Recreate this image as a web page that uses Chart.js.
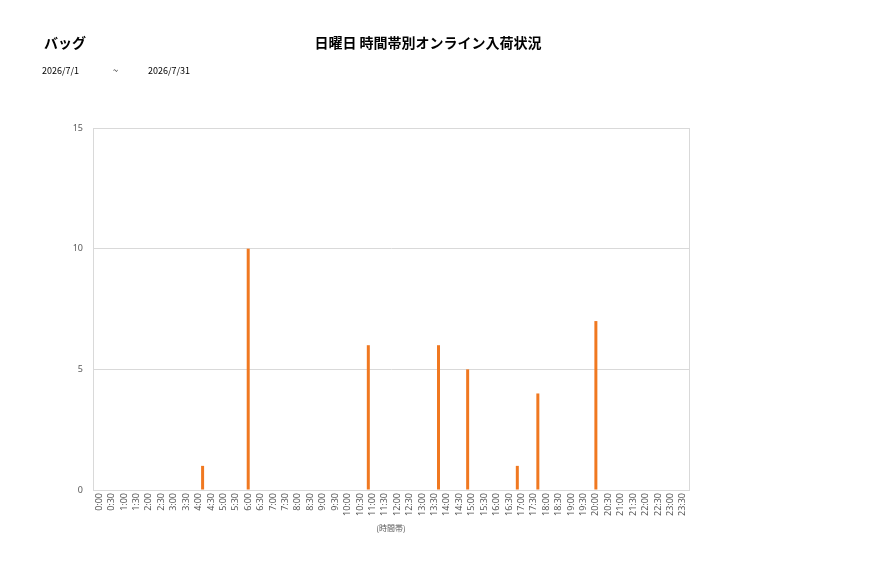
<!DOCTYPE html>
<html>
<head>
<meta charset="utf-8">
<script src="https://cdn.jsdelivr.net/npm/chart.js@4"></script>
<style>
  body { margin: 0; background: #fff; }
  #wrap { position: relative; width: 877px; height: 578px; font-family: "Noto Sans CJK JP", sans-serif; color: #000; }
  #wrap canvas { position: absolute; left: 0; top: 0; }
  .txt { position: absolute; white-space: nowrap; }
  #cat-title { left: 44px; top: 32px; font-size: 14px; font-weight: bold; }
  #main-title { left: 0; width: 856px; top: 32px; text-align: center; font-size: 14px; font-weight: bold; }
  .date { top: 64px; font-size: 9px; }
</style>
</head>
<body>
<div id="wrap">
  <canvas id="chart" width="877" height="578"></canvas>
  <div class="txt" id="cat-title">バッグ</div>
  <div class="txt" id="main-title">日曜日 時間帯別オンライン入荷状況</div>
  <div class="txt date" style="left:42px">2026/7/1</div>
  <div class="txt date" style="left:113px">~</div>
  <div class="txt date" style="left:148px">2026/7/31</div>
</div>
<script>
// time slots 0:00 - 23:30
const timeLabels = ["0:00","0:30","1:00","1:30","2:00","2:30","3:00","3:30","4:00","4:30","5:00","5:30",
    "6:00","6:30","7:00","7:30","8:00","8:30","9:00","9:30","10:00","10:30","11:00","11:30",
    "12:00","12:30","13:00","13:30","14:00","14:30","15:00","15:30","16:00","16:30","17:00","17:30",
    "18:00","18:30","19:00","19:30","20:00","20:30","21:00","21:30","22:00","22:30","23:00","23:30"];

// three series, clustered in each slot (left / middle / right)
const seriesA = [0,0,0,0,0,0,0,0,0,0,0,0, 0,0,0,0,0,0,0,0,0,0,6,0, 0,0,0,0,0,0,5,0,0,0,1,0, 0,0,0,0,0,0,0,0,0,0,0,0];
const seriesB = [0,0,0,0,0,0,0,0,0,0,0,0, 10,0,0,0,0,0,0,0,0,0,0,0, 0,0,0,0,0,0,0,0,0,0,0,0, 0,0,0,0,7,0,0,0,0,0,0,0];
const seriesC = [0,0,0,0,0,0,0,0,1,0,0,0, 0,0,0,0,0,0,0,0,0,0,0,0, 0,0,0,6,0,0,0,0,0,0,0,4, 0,0,0,0,0,0,0,0,0,0,0,0];

const yTicks = [0, 5, 10, 15];

const barColor = "#f07820";
const gridColor = "#d9d9d9";
const tickColor = "#595959";

// outline round the plot area
const plotBorder = {
    id: "plotBorder",
    afterDraw(chart) {
        const a = chart.chartArea;
        const ctx = chart.ctx;
        ctx.save();
        ctx.strokeStyle = gridColor;
        ctx.lineWidth = 1;
        ctx.strokeRect(Math.round(a.left) + 0.5, Math.round(a.top) + 0.5,
            Math.round(a.right - a.left), Math.round(a.bottom - a.top));
        ctx.restore();
    }
};

function makeSet(name, data) {
    return {
        label: name,
        data: data,
        backgroundColor: barColor,
        categoryPercentage: 0.98,
        barPercentage: 0.74
    };
}

new Chart(document.getElementById("chart"), {
    type: "bar",
    data: {
        labels: timeLabels,
        datasets: [makeSet("A", seriesA), makeSet("B", seriesB), makeSet("C", seriesC)]
    },
    options: {
        responsive: false,
        animation: false,
        layout: { padding: { left: 0, top: 128, right: 188, bottom: 45 } },
        plugins: {
            legend: { display: false },
            tooltip: { enabled: false }
        },
        scales: {
            x: {
                grid: { display: false, drawTicks: false },
                border: { color: gridColor },
                ticks: {
                    autoSkip: false,
                    maxRotation: 90,
                    minRotation: 90,
                    padding: 3,
                    color: tickColor,
                    font: { size: 9, family: "Noto Sans" }
                },
                title: {
                    display: true,
                    text: "(時間帯)",
                    color: tickColor,
                    padding: 0,
                    font: { size: 8, family: "Noto Sans CJK JP" }
                },
                afterFit(s) { s.height = 43; }
            },
            y: {
                min: 0,
                max: 15,
                grid: { color: gridColor, drawTicks: false },
                border: { color: gridColor },
                afterBuildTicks(s) { s.ticks = yTicks.map(v => ({ value: v })); },
                ticks: {
                    padding: 10,
                    color: tickColor,
                    font: { size: 9, family: "Noto Sans" }
                },
                afterFit(s) { s.width = 93; }
            }
        }
    },
    plugins: [plotBorder]
});
</script>
</body>
</html>
